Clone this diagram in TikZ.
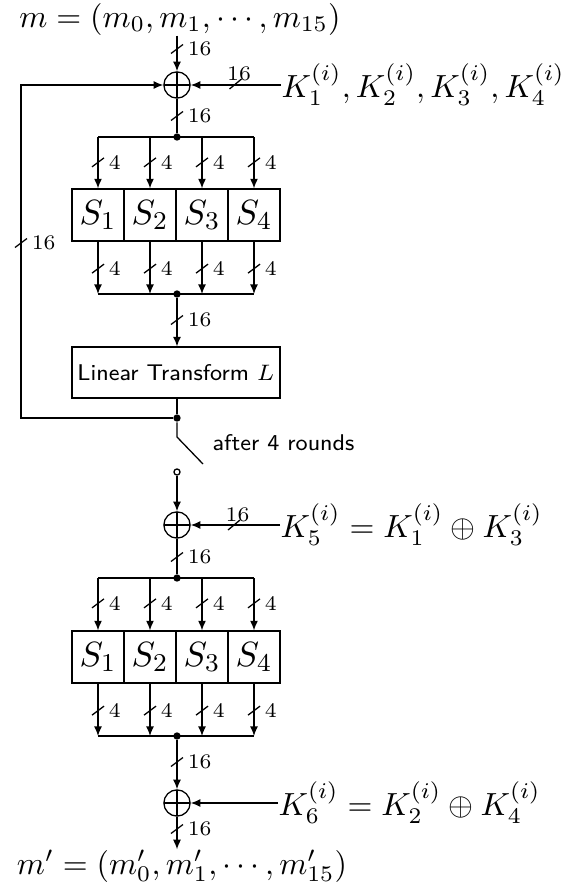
\documentclass[tikz,border=0pt]{standalone}
\usetikzlibrary{arrows.meta,calc}
\newcommand\vbus[2]{\draw #1 ++(-6,4.5) -- ++(12,-9) ++(1,4.5) node[lbl,anchor=west]{#2};}
\newcommand\hbus[2]{\draw #1 ++(-6,5) -- ++(12,-10); \path #1 ++(3.5,-4) node[lbl,anchor=base]{#2};}
\begin{document}
\begin{tikzpicture}[x=0.3125pt,y=-0.3125pt,
  line width=0.4pt,
  >={Latex[length=3pt,width=2.5pt]},
  lbl/.style={font=\fontsize{6.5}{7.5}\selectfont,inner sep=1pt},
  mathtxt/.style={inner sep=0pt,font=\fontsize{10.2}{12}\selectfont},
  sanstxt/.style={inner sep=0pt,font=\sffamily\fontsize{7.1}{9}\selectfont},
  xor/.style={circle,draw,minimum size=8.2pt,inner sep=0pt,
    path picture={\draw (path picture bounding box.north)--(path picture bounding box.south)
      (path picture bounding box.west)--(path picture bounding box.east);}},
  sbox/.style={draw,minimum width=16.25pt,minimum height=16.25pt,inner sep=0pt,font=\fontsize{11}{13}\selectfont},
  ltbox/.style={draw,minimum width=65pt,minimum height=15.9pt,inner sep=0pt,font=\sffamily\fontsize{7.1}{9}\selectfont},
  dot/.style={circle,fill,inner sep=0pt,minimum size=2.3pt},
  odot/.style={circle,draw,fill=white,inner sep=0pt,minimum size=1.9pt}
]
\useasboundingbox (0,0) rectangle (566,893);

% ---- input and first XOR
\node[mathtxt] (min) at (180,19) {$m=(m_0,m_1,\cdots,m_{15})$};
\node[xor] (x1) at (177,85) {};
\node[mathtxt,anchor=west] (k1) at (281,85) {$K_1^{(i)},K_2^{(i)},K_3^{(i)},K_4^{(i)}$};
\draw[->] (min.south -| x1) -- (x1.north);
\vbus{(177,49)}{16}
\draw[->] (k1.west) -- (x1.east);
\hbus{(235.5,84)}{16}

% ---- first S layer
\node[dot] (j1) at (177,137) {};
\draw (x1.south) -- (j1);
\vbus{(177,116)}{16}
\node[sbox] (s1) at (98,215) {$S_1$};
\node[sbox] (s2) at (150,215) {$S_2$};
\node[sbox] (s3) at (202,215) {$S_3$};
\node[sbox] (s4) at (254,215) {$S_4$};
\draw (s1.north |- j1) -- (s4.north |- j1);
\foreach \s in {s1,s2,s3,s4}{
  \draw[->] (\s.north |- j1) -- (\s.north);
  \path (\s.north) ++(0,-26) coordinate (tmp);
  \vbus{(tmp)}{4}
}
\node[dot] (j2) at (177,294) {};
\draw (s1.south |- j2) -- (s4.south |- j2);
\foreach \s in {s1,s2,s3,s4}{
  \draw[->] (\s.south) -- (\s.south |- j2);
  \path (\s.south) ++(0,27) coordinate (tmp);
  \vbus{(tmp)}{4}
}

% ---- linear transform
\node[ltbox] (lt) at (176,372.5) {Linear Transform $L$};
\draw[->] (j2) -- (lt.north -| j2);
\vbus{(177,320)}{16}
\node[dot] (j3) at (177,418) {};
\draw (lt.south -| j3) -- (j3);

% ---- feedback
\coordinate (fb1) at (21,418);
\coordinate (fb2) at (21,85);
\draw[->] (j3) -- (fb1) -- (fb2) -- (x1.west);
\vbus{(21,243)}{16}

% ---- switch
\coordinate (sw1) at (177,437);
\coordinate (sw2) at (203,464);
\draw (j3) -- (sw1) -- (sw2);
\node[sanstxt,anchor=west] (ar) at (212,443) {after 4 rounds};
\node[odot] (oc) at (177,472) {};

% ---- second XOR
\node[xor] (x2) at (177,525) {};
\draw[->] (oc) -- (x2.north);
\node[mathtxt,anchor=west] (k5) at (280,525) {$K_5^{(i)}=K_1^{(i)}\oplus K_3^{(i)}$};
\draw[->] (k5.west) -- (x2.east);
\hbus{(234,525)}{16}

% ---- second S layer
\node[dot] (j4) at (177,578) {};
\draw (x2.south) -- (j4);
\vbus{(177,557)}{16}
\node[sbox] (t1) at (98,657) {$S_1$};
\node[sbox] (t2) at (150,657) {$S_2$};
\node[sbox] (t3) at (202,657) {$S_3$};
\node[sbox] (t4) at (254,657) {$S_4$};
\draw (t1.north |- j4) -- (t4.north |- j4);
\foreach \s in {t1,t2,t3,t4}{
  \draw[->] (\s.north |- j4) -- (\s.north);
  \path (\s.north) ++(0,-27) coordinate (tmp);
  \vbus{(tmp)}{4}
}
\node[dot] (j5) at (177,736) {};
\draw (t1.south |- j5) -- (t4.south |- j5);
\foreach \s in {t1,t2,t3,t4}{
  \draw[->] (\s.south) -- (\s.south |- j5);
  \path (\s.south) ++(0,27) coordinate (tmp);
  \vbus{(tmp)}{4}
}

% ---- third XOR and output
\node[xor] (x3) at (177,803) {};
\draw[->] (j5) -- (x3.north);
\vbus{(177,762)}{16}
\node[mathtxt,anchor=west] (k6) at (278,803) {$K_6^{(i)}=K_2^{(i)}\oplus K_4^{(i)}$};
\draw[->] (k6.west) -- (x3.east);
\node[mathtxt] (mout) at (182,866) {$m'=(m'_0,m'_1,\cdots,m'_{15})$};
\draw[->] (x3.south) -- (x3 |- mout.north);
\vbus{(177,829)}{16}
\end{tikzpicture}
\end{document}
